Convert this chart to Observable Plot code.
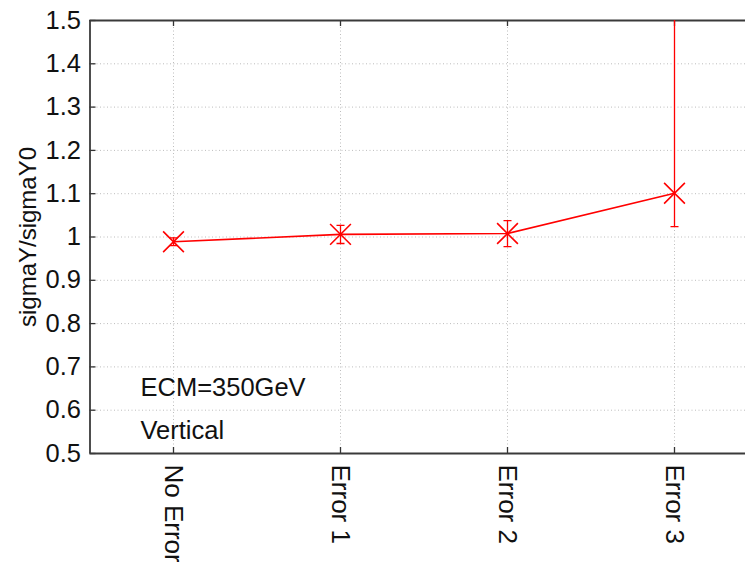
<!DOCTYPE html>
<html>
<head>
<meta charset="utf-8">
<script src="https://cdn.jsdelivr.net/npm/d3@7"></script>
<script src="https://cdn.jsdelivr.net/npm/@observablehq/plot@0.6"></script>
<style>
  html, body { margin: 0; padding: 0; background: #fff; }
  #chart svg { display: block; }
</style>
</head>
<body>
<div id="chart"></div>
<script>
// Beam-size ratio sigmaY/sigmaY0 for each alignment-error scenario
const categories = ["No Error", "Error 1", "Error 2", "Error 3"];
const ratio      = [0.989, 1.006, 1.008, 1.101];
const errLow     = [0.980, 0.985, 0.978, 1.024];
const errHigh    = [0.998, 1.027, 1.038, 1.650];
const yTicks     = [0.5, 0.6, 0.7, 0.8, 0.9, 1.0, 1.1, 1.2, 1.3, 1.4, 1.5];
const notes      = ["ECM=350GeV", "Vertical"];
const noteY      = [0.652, 0.553];

const data = categories.map((c, i) => ({
  pos: i + 1, label: c, y: ratio[i], lo: errLow[i], hi: errHigh[i]
}));

const W = 745, H = 562;
const axL = 89.5, axR = 757.5, axT = 20, axB = 453;
const red = "#ff0000";
const ink = "#111";
const font = "Liberation Sans, Arial, Helvetica, sans-serif";

// short horizontal stroke used for the error-bar caps
const dash = {
  draw(ctx, size) {
    const r = Math.sqrt(size / Math.PI);
    ctx.moveTo(-r, 0);
    ctx.lineTo(r, 0);
  }
};

const chart = Plot.plot({
  width: W,
  height: H,
  marginTop: axT,
  marginBottom: H - axB,
  marginLeft: axL,
  marginRight: W - axR,
  style: { fontFamily: font, background: "#fff", overflow: "visible" },
  x: { type: "linear", domain: [0.5, 4.5], range: [axL, axR], axis: null },
  y: { domain: [0.5, 1.5], range: [axB, axT], axis: null },
  marks: [
    // dotted grid
    Plot.ruleY(yTicks, { stroke: "#bdbdbd", strokeWidth: 1, strokeDasharray: "1,2.5" }),
    Plot.ruleX(data, { x: "pos", stroke: "#bdbdbd", strokeWidth: 1, strokeDasharray: "1,2.5" }),
    // inward tick marks on left, bottom and top edges
    Plot.ruleY(yTicks, { stroke: "#333", strokeWidth: 1.3, insetRight: (axR - axL) - 6 }),
    Plot.ruleX(data, { x: "pos", stroke: "#333", strokeWidth: 1.3, insetTop: (axB - axT) - 6 }),
    Plot.ruleX(data, { x: "pos", stroke: "#333", strokeWidth: 1.3, insetBottom: (axB - axT) - 6 }),
    // axis box
    Plot.ruleX([0.5], { stroke: "#3a3a3a", strokeWidth: 1.8 }),
    Plot.ruleY([0.5, 1.5], { stroke: "#3a3a3a", strokeWidth: 1.8 }),
    // y tick labels
    Plot.text(yTicks, {
      x: 0.5, y: d => d, text: d => String(+d.toFixed(1)),
      textAnchor: "end", dx: -9, fontSize: 25.5, fill: ink
    }),
    // category labels, rotated to read downward
    Plot.text(data, {
      x: "pos", y: 0.5, text: "label", rotate: 90,
      textAnchor: "start", dy: 11, fontSize: 26, fill: ink
    }),
    // error bars
    Plot.ruleX(data, { x: "pos", y1: "lo", y2: "hi", stroke: red, strokeWidth: 1.3, clip: true }),
    Plot.dot(data, { x: "pos", y: "lo", symbol: dash, r: 4, stroke: red, strokeWidth: 1.3, clip: true }),
    Plot.dot(data, { x: "pos", y: "hi", symbol: dash, r: 4, stroke: red, strokeWidth: 1.3, clip: true }),
    // connecting line and markers
    Plot.line(data, { x: "pos", y: "y", stroke: red, strokeWidth: 1.6 }),
    Plot.dot(data, { x: "pos", y: "y", symbol: "times", r: 9.5, stroke: red, strokeWidth: 1.6 }),
    // annotations
    Plot.text(notes, {
      x: 0.5, y: (d, i) => noteY[i], text: d => d,
      textAnchor: "start", dx: 50.5, fontSize: 25.5, fill: ink
    }),
    // y-axis title, centred on the frame height
    Plot.text(["sigmaY/sigmaY0"], {
      frameAnchor: "left", textAnchor: "middle", text: d => d, rotate: -90, dx: -62,
      fontSize: 24, fill: ink
    })
  ]
});

document.getElementById("chart").appendChild(chart);
</script>
</body>
</html>
